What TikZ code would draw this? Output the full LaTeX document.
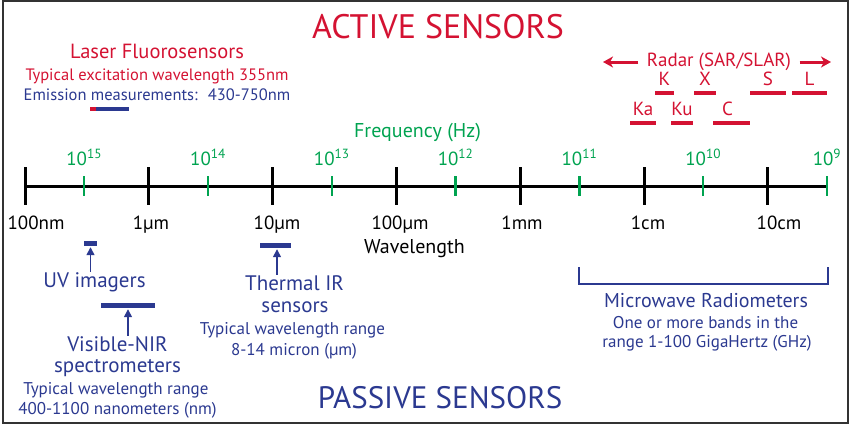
\documentclass[tikz,border=0pt]{standalone}
\usepackage{fontspec}
\setmainfont{PT Sans}
\usetikzlibrary{arrows.meta}
\usetikzlibrary{positioning}
\definecolor{actred}{RGB}{212,18,50}
\definecolor{pasblue}{RGB}{43,57,144}
\definecolor{freqgreen}{RGB}{0,163,80}
\newcommand{\fsz}[1]{\fontsize{#1}{#1}\selectfont}

\begin{document}
\begin{tikzpicture}[x=1pt,y=-1pt,
  lbl/.style={inner sep=0pt, anchor=base},
  band/.style={inner sep=0pt, actred, font=\fsz{19}},
  rbar/.style={fill=actred, minimum height=4, inner sep=0pt},
  pbar/.style={fill=pasblue, minimum height=5, inner sep=0pt},
  pasarrow/.style={pasblue, line width=1.5pt, -{Triangle[length=8pt,width=8pt]}, shorten >=1.5pt},
  radarrow/.style={actred, line width=3pt, -{Stealth[length=10pt,width=11pt,inset=3pt]}}]
\useasboundingbox (0,0) rectangle (850,426);
\draw[line width=1.5pt, black!80] (3,1) rectangle (848,423);

% titles
\node[lbl, actred, font=\fsz{34}] (active) at (438,38) {ACTIVE SENSORS};
\node[lbl, pasblue, font=\fsz{31}] (passive) at (440,408) {PASSIVE SENSORS};

% laser fluorosensors
\node[lbl, actred, font=\fsz{20.5}] (laser) at (157,58) {Laser Fluorosensors};
\node[lbl, actred, font=\fsz{16.5}] (excit) at (157,80) {Typical excitation wavelength 355nm};
\node[lbl, pasblue, font=\fsz{16.5}] (emiss) at (157,100) {Emission measurements:~ 430-750nm};
\fill[actred] (90,107) rectangle (96,111);
\fill[pasblue] (96,107) rectangle (129,111);

% radar bands
\node[lbl, actred, font=\fsz{19}, inner xsep=8.5pt] (radar) at (719,66) {Radar (SAR/SLAR)};
\coordinate (radL) at (603,62);
\coordinate (radR) at (831,62);
\draw[radarrow] (radar.west |- radL) -- (radL);
\draw[radarrow] (radar.east |- radR) -- (radR);
\node[rbar, minimum width=19] (kbar) at (664.5,93) {};
\node[rbar, minimum width=22] (xbar) at (705,93) {};
\node[rbar, minimum width=36] (sbar) at (768,93) {};
\node[rbar, minimum width=35] (lbar) at (809.5,93) {};
\node[rbar, minimum width=26] (kabar) at (643,123) {};
\node[rbar, minimum width=22] (kubar) at (682,123) {};
\node[rbar, minimum width=37] (cbar) at (731.5,123) {};
\node[band, above=5pt of kbar] (k) {K};
\node[band, above=5pt of xbar] (x) {X};
\node[band, above=5pt of sbar] (s) {S};
\node[band, above=5pt of lbar] (l) {L};
\node[band, above=5pt of kabar] (ka) {Ka};
\node[band, above=5pt of kubar] (ku) {Ku};
\node[band, above=5pt of cbar, xshift=-4pt] (c) {C};

% spectrum axis
\node[lbl, freqgreen, font=\fsz{20}] (freq) at (417.5,137) {Frequency (Hz)};
\draw[line width=3pt] (25,186) -- (828,186);
\foreach \i/\fr in {0/15,1/14,2/13,3/12,4/11,5/10,6/9} {
  \draw[line width=3pt] (25+123.8*\i,167) -- (25+123.8*\i,205);
  \draw[freqgreen, line width=2.5pt] (84.2+123.8*\i,176) -- (84.2+123.8*\i,196);
  \node[lbl, freqgreen, font=\fsz{19}] (f\i) at (84.2+123.8*\i,165) {10\textsuperscript{\fr}};
}
\foreach \x/\wl [count=\j] in {36/100nm,151/1µm,277/10µm,400/100µm,522/1mm,648/1cm,779/10cm}
  \node[lbl, font=\fsz{19}] (w\j) at (\x,229) {\wl};
\node[lbl, font=\fsz{20}] (wave) at (414.5,253) {Wavelength};

% passive sensors
\node[pbar, minimum width=13] (uvbar) at (90.5,243) {};
\node[lbl, pasblue, font=\fsz{21}] (uvlbl) at (94.5,287) {UV imagers};
\draw[pasarrow] (uvbar.south |- uvlbl.north) -- (uvbar.south);

\node[pbar, minimum width=54] (visbar) at (128,305) {};
\node[lbl, pasblue, font=\fsz{21}] (vislbl) at (117.5,351) {Visible-NIR};
\node[lbl, pasblue, font=\fsz{21}] (visspec) at (117.5,372) {spectrometers};
\node[lbl, pasblue, font=\fsz{17}] (visrng) at (116,394) {Typical wavelength range};
\node[lbl, pasblue, font=\fsz{17}] (visnm) at (117.5,414) {400-1100 nanometers (nm)};
\draw[pasarrow] (visbar.south |- vislbl.north) -- (visbar.south);

\node[pbar, minimum width=31] (irbar) at (275.5,245) {};
\node[lbl, pasblue, font=\fsz{21}] (irlbl) at (294.5,290) {Thermal IR};
\node[lbl, pasblue, font=\fsz{21}] (irsens) at (295,312) {sensors};
\node[lbl, pasblue, font=\fsz{17}] (irrng) at (292.5,334) {Typical wavelength range};
\node[lbl, pasblue, font=\fsz{17}] (irmic) at (294,355) {8-14 micron (µm)};
\draw[pasarrow] ([xshift=1.5pt]irbar.south |- irlbl.north) -- ([xshift=1.5pt]irbar.south);

\draw[pasblue, line width=2.5pt] (579,267) -- (579,284) -- (828,284) -- (828,267);
\node[lbl, pasblue, font=\fsz{20}] (mwlbl) at (706,307) {Microwave Radiometers};
\node[lbl, pasblue, font=\fsz{17}] (mwbands) at (705.5,328) {One or more bands in the};
\node[lbl, pasblue, font=\fsz{17}] (mwrng) at (707,347) {range 1-100 GigaHertz (GHz)};
\end{tikzpicture}
\end{document}
